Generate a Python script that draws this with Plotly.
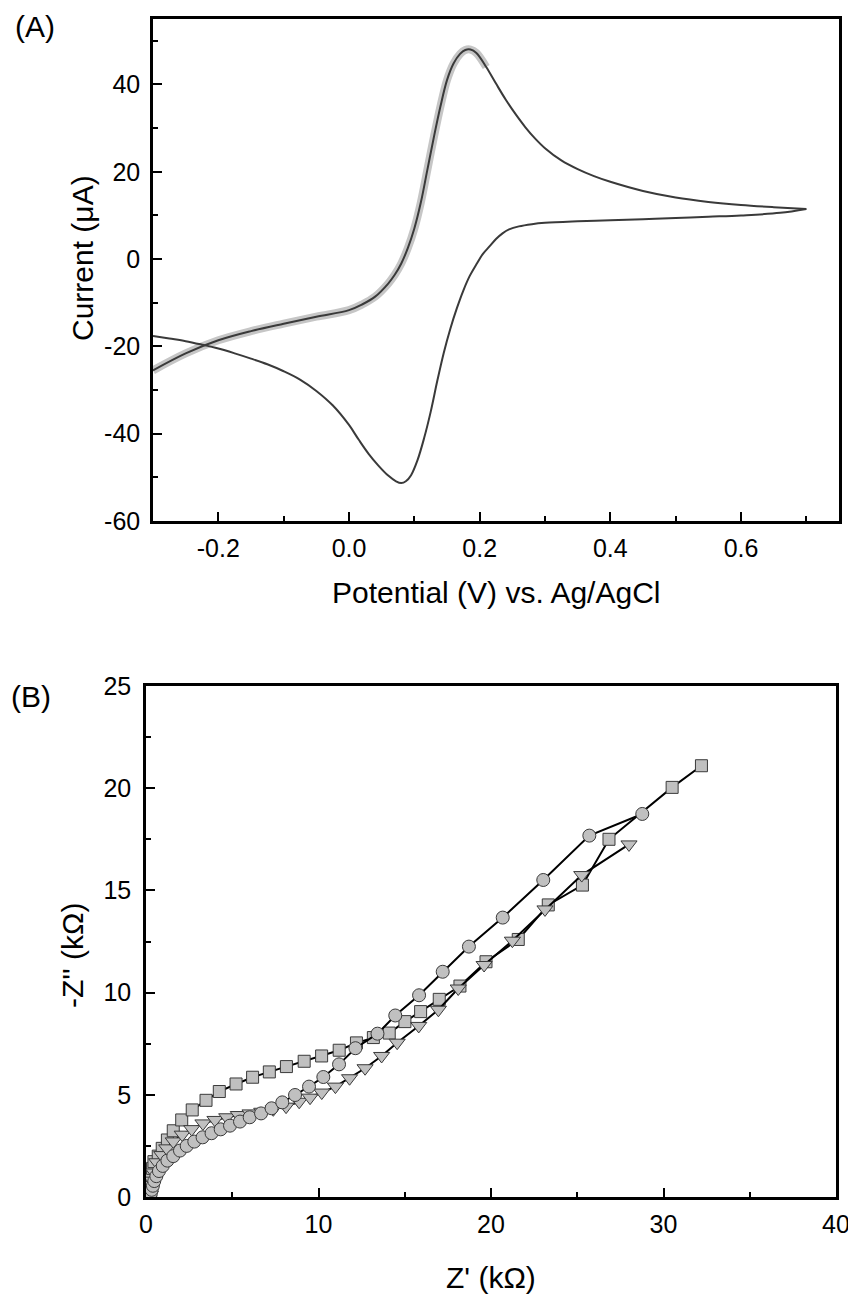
import plotly.graph_objects as go

# the page body has an 8px margin, so the figure starts at (8, 8) in the window
OFF = 8
W, H = 848, 1289

# ---------------- Panel A: cyclic voltammogram ----------------
cv_fwd_v = [-0.30, -0.25, -0.20, -0.15, -0.10, -0.05, 0.00, 0.02, 0.04, 0.06, 0.07, 0.08,
            0.09, 0.10, 0.11, 0.12, 0.13, 0.14, 0.15, 0.16, 0.17, 0.178, 0.186, 0.195,
            0.21, 0.225, 0.24, 0.255, 0.27, 0.285, 0.30, 0.325, 0.35, 0.375, 0.40, 0.45,
            0.50, 0.55, 0.60, 0.65, 0.70]
cv_fwd_i = [-25.5, -21.6, -18.6, -16.5, -14.8, -13.2, -11.7, -10.4, -8.6, -5.6, -3.6, -1.0,
            2.5, 7.0, 13.0, 20.5, 28.0, 35.0, 41.0, 44.8, 47.0, 47.9, 48.0, 47.2,
            44.0, 40.2, 36.5, 33.2, 30.2, 27.6, 25.4, 22.6, 20.6, 19.0, 17.7, 15.6,
            14.1, 13.1, 12.4, 11.9, 11.5]
cv_rev_v = [0.70, 0.66, 0.60, 0.55, 0.50, 0.45, 0.40, 0.35, 0.30, 0.28, 0.26, 0.245, 0.235,
            0.225, 0.215, 0.205, 0.195, 0.185, 0.175, 0.165, 0.155, 0.145, 0.135, 0.125,
            0.115, 0.105, 0.095, 0.087, 0.08, 0.072, 0.06, 0.045, 0.03, 0.015, 0.0, -0.025,
            -0.05, -0.075, -0.10, -0.125, -0.15, -0.175, -0.20, -0.225, -0.25, -0.275, -0.30]
cv_rev_i = [11.5, 10.6, 10.0, 9.7, 9.4, 9.15, 8.9, 8.65, 8.3, 8.0, 7.5, 6.8, 5.9,
            4.6, 2.9, 1.2, -1.2, -3.8, -7.2, -11.3, -16.0, -21.5, -28.0, -35.0,
            -41.0, -46.0, -49.5, -50.9, -51.3, -50.9, -49.6, -47.3, -44.6, -41.4, -38.0, -33.5,
            -30.2, -27.6, -25.7, -24.1, -22.8, -21.6, -20.5, -19.6, -18.8, -18.2, -17.6]
band_end_v = 0.21

a_xticks = [-0.2, 0.0, 0.2, 0.4, 0.6]
a_xticktext = ["-0.2", "0.0", "0.2", "0.4", "0.6"]
a_xminor = [-0.3, -0.1, 0.1, 0.3, 0.5, 0.7]
a_yticks = [-60, -40, -20, 0, 20, 40]
a_yminor = [-50, -30, -10, 10, 30, 50]

# ---------------- Panel B: Nyquist plot ----------------
sq_x = [0.22, 0.25, 0.28, 0.32, 0.38, 0.46, 0.71, 0.94, 1.24, 1.58, 2.07, 2.68, 3.48, 4.25,
        5.22, 6.18, 7.15, 8.14, 9.17, 10.18, 11.2, 12.2, 13.18, 14.1, 15.01, 15.92, 17.0,
        18.2, 19.71, 21.58, 23.32, 25.3, 26.84, 30.5, 32.2]
sq_y = [0.15, 0.4, 0.7, 1.05, 1.4, 1.73, 2.0, 2.38, 2.79, 3.24, 3.77, 4.26, 4.73, 5.16,
        5.53, 5.86, 6.12, 6.38, 6.64, 6.9, 7.18, 7.54, 7.8, 8.02, 8.58, 9.07, 9.67,
        10.32, 11.51, 12.6, 14.29, 15.26, 17.5, 20.04, 21.1]
ci_x = [0.25, 0.28, 0.33, 0.4, 0.48, 0.6, 0.75, 0.97, 1.24, 1.58, 1.97, 2.36, 2.8, 3.28,
        3.8, 4.33, 4.87, 5.45, 6.01, 6.67, 7.28, 7.9, 8.64, 9.45, 10.28, 11.19, 12.14,
        13.42, 14.45, 15.83, 17.2, 18.72, 20.68, 23.03, 25.7, 28.77]
ci_y = [0.05, 0.18, 0.35, 0.55, 0.78, 1.02, 1.27, 1.52, 1.78, 2.0, 2.27, 2.5, 2.71, 2.92,
        3.12, 3.31, 3.49, 3.69, 3.9, 4.09, 4.34, 4.63, 4.99, 5.4, 5.87, 6.49, 7.28,
        7.99, 8.88, 9.87, 11.02, 12.25, 13.67, 15.51, 17.68, 18.74]
tr_x = [0.25, 0.3, 0.36, 0.45, 0.62, 0.91, 1.2, 1.58, 2.1, 2.65, 3.3, 4.0, 4.68, 5.35,
        6.03, 6.71, 7.38, 8.12, 8.88, 9.51, 10.19, 10.98, 11.8, 12.7, 13.66, 14.56, 15.81,
        16.95, 18.1, 19.6, 21.24, 23.13, 25.26, 28.0]
tr_y = [0.1, 0.4, 0.8, 1.2, 1.7, 2.05, 2.38, 2.72, 3.05, 3.32, 3.6, 3.77, 3.9, 4.01,
        4.09, 4.17, 4.29, 4.42, 4.66, 4.86, 5.11, 5.4, 5.81, 6.3, 6.9, 7.55, 8.37,
        9.16, 10.2, 11.35, 12.54, 14.07, 15.75, 17.25]

b_xticks = [0, 10, 20, 30, 40]
b_xminor = [5, 15, 25, 35]
b_yticks = [0, 5, 10, 15, 20, 25]
b_yminor = [2.5, 7.5, 12.5, 17.5, 22.5]

FONT = "Liberation Sans, Arial, Helvetica, sans-serif"
TICK_SIZE = 25
TITLE_SIZE = 30


def px_x(p):
    return (p - OFF) / W


def px_y(p):
    return 1 - (p - OFF) / H


fig = go.Figure()

# grey uncertainty band on the forward scan
band_v = [v for v in cv_fwd_v if v <= band_end_v]
band_i = cv_fwd_i[:len(band_v)]
fig.add_trace(go.Scatter(x=band_v, y=band_i, mode="lines", xaxis="x", yaxis="y",
                         line=dict(color="#c6c6c6", width=8, shape="spline"),
                         hoverinfo="skip", showlegend=False))
fig.add_trace(go.Scatter(x=cv_fwd_v, y=cv_fwd_i, mode="lines", xaxis="x", yaxis="y",
                         line=dict(color="#3a3a3a", width=2, shape="spline"),
                         showlegend=False))
fig.add_trace(go.Scatter(x=cv_rev_v, y=cv_rev_i, mode="lines", xaxis="x", yaxis="y",
                         line=dict(color="#3a3a3a", width=2, shape="spline"),
                         showlegend=False))

mk_line = dict(color="#3a3a3a", width=1)
fig.add_trace(go.Scatter(x=sq_x, y=sq_y, mode="lines+markers", xaxis="x2", yaxis="y2",
                         line=dict(color="black", width=2),
                         marker=dict(symbol="square", size=12, color="#c0c0c0", line=mk_line),
                         showlegend=False))
fig.add_trace(go.Scatter(x=tr_x, y=tr_y, mode="lines+markers", xaxis="x2", yaxis="y2",
                         line=dict(color="black", width=2),
                         marker=dict(symbol="triangle-down", size=14, color="#c0c0c0", line=mk_line),
                         showlegend=False))
fig.add_trace(go.Scatter(x=ci_x, y=ci_y, mode="lines+markers", xaxis="x2", yaxis="y2",
                         line=dict(color="black", width=2),
                         marker=dict(symbol="circle", size=13, color="#c0c0c0", line=mk_line),
                         showlegend=False))

axis_common = dict(showline=True, linecolor="black", linewidth=2.5, mirror=True,
                   showgrid=False, zeroline=False, ticks="inside", ticklen=9,
                   tickwidth=2, tickcolor="black", automargin=False,
                   tickfont=dict(family=FONT, size=TICK_SIZE, color="black"))


def minor(vals):
    return dict(tickvals=vals, ticks="inside", ticklen=5, tickwidth=2, tickcolor="black")


fig.update_layout(
    width=W, height=H,
    margin=dict(l=0, r=0, t=0, b=0, pad=0),
    paper_bgcolor="white", plot_bgcolor="white",
    font=dict(family=FONT, color="black"),
    xaxis=dict(domain=[px_x(153), px_x(839)], range=[-0.3, 0.75], anchor="y",
               tickvals=a_xticks, ticktext=a_xticktext, ticklabelstandoff=3,
               minor=minor(a_xminor), **axis_common),
    yaxis=dict(domain=[px_y(521), px_y(19)], range=[-60, 55], anchor="x",
               tickvals=a_yticks, ticktext=[str(v) for v in a_yticks], ticklabelstandoff=5,
               minor=minor(a_yminor), **axis_common),
    xaxis2=dict(domain=[px_x(146), px_x(836)], range=[0, 40], anchor="y2",
                tickvals=b_xticks, ticktext=[str(v) for v in b_xticks], ticklabelstandoff=3,
                minor=minor(b_xminor), **axis_common),
    yaxis2=dict(domain=[px_y(1197), px_y(686)], range=[0, 25], anchor="x2",
                tickvals=b_yticks, ticktext=[str(v) for v in b_yticks], ticklabelstandoff=7,
                minor=minor(b_yminor), **axis_common),
)

title_font = dict(family=FONT, size=TITLE_SIZE, color="black")
annots = [
    dict(text="Potential (V) vs. Ag/AgCl", x=px_x(496), y=px_y(592), xanchor="center"),
    dict(text="Current (\u03bcA)", x=px_x(82), y=px_y(258), xanchor="center", textangle=-90),
    dict(text="Z' (k\u03a9)", x=px_x(491), y=px_y(1277), xanchor="center"),
    dict(text="-Z'' (k\u03a9)", x=px_x(72), y=px_y(955), xanchor="center", textangle=-90),
    dict(text="(A)", x=px_x(13), y=px_y(26), xanchor="left"),
    dict(text="(B)", x=px_x(9), y=px_y(696), xanchor="left"),
]
for a in annots:
    fig.add_annotation(xref="paper", yref="paper", yanchor="middle",
                       showarrow=False, font=title_font, **a)

fig.write_html("out.html")
